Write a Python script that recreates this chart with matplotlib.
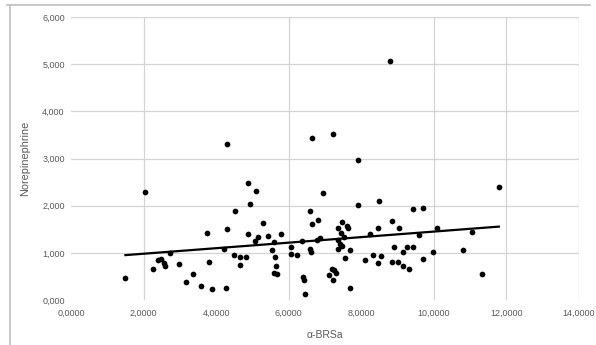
import numpy as np
import matplotlib
matplotlib.use("Agg")
import matplotlib.pyplot as plt
from matplotlib.lines import Line2D

# alpha-BRSa values
brs = [1.50, 2.03, 2.25, 2.39, 2.48, 2.56, 2.58, 2.74, 2.98, 3.17,
       3.37, 3.57, 3.75, 3.81, 3.89, 4.23, 4.29, 4.26, 4.31, 4.88,
       5.11, 4.92, 4.51, 4.49, 4.67, 4.83, 4.65, 4.88, 5.06, 5.16,
       5.30, 5.44, 5.59, 5.78, 5.55, 5.62, 5.64, 5.59, 5.69, 6.06,
       6.06, 6.24, 6.36, 6.40, 6.41, 6.44, 6.58, 6.65, 6.82, 6.58,
       6.61, 6.79, 6.86, 6.95, 6.65, 7.23, 7.91, 8.78, 7.90, 8.49,
       9.42, 9.71, 7.48, 7.60, 7.64, 7.36, 7.44, 7.53, 7.37, 7.41,
       7.48, 7.35, 7.69, 7.56, 7.19, 7.25, 7.11, 7.30, 7.22, 7.69,
       8.11, 8.25, 8.45, 8.33, 8.54, 8.45, 8.86, 9.03, 8.89, 9.16,
       9.25, 9.43, 8.86, 9.00, 9.16, 9.31, 9.69, 9.60, 10.09, 9.99,
       10.80, 11.05, 11.33, 11.79]
# Norepinephrine values
norepi = [0.459, 2.292, 0.663, 0.847, 0.868, 0.776, 0.720, 0.988, 0.762, 0.388,
          0.550, 0.303, 1.425, 0.811, 0.233, 1.073, 1.496, 0.247, 3.316, 2.490,
          2.307, 2.038, 1.877, 0.946, 0.903, 0.903, 0.741, 1.390, 1.249, 1.340,
          1.623, 1.355, 1.221, 1.390, 1.058, 0.903, 0.720, 0.565, 0.550, 1.128,
          0.974, 0.946, 1.255, 0.480, 0.423, 0.120, 1.877, 1.608, 1.693, 1.073,
          1.009, 1.270, 1.305, 2.279, 3.435, 3.513, 2.963, 5.058, 2.017, 2.102,
          1.919, 1.947, 1.658, 1.566, 1.517, 1.531, 1.411, 1.340, 1.270, 1.185,
          1.143, 1.079, 1.058, 0.882, 0.663, 0.635, 0.529, 0.565, 0.423, 0.261,
          0.839, 1.397, 1.517, 0.946, 0.924, 0.776, 1.679, 1.517, 1.128, 1.023,
          1.128, 1.128, 0.797, 0.797, 0.720, 0.663, 0.875, 1.376, 1.517, 1.023,
          1.058, 1.446, 0.543, 2.399]

x_ticks = [0, 2, 4, 6, 8, 10, 12, 14]
y_ticks = [0, 1, 2, 3, 4, 5, 6]
x_gridlines = [2, 6, 10, 12, 14]

plt.rcParams['font.family'] = ['Liberation Sans', 'DejaVu Sans']

fig = plt.figure(figsize=(5.96, 3.45), dpi=100)
fig.patch.set_facecolor('white')
ax = fig.add_axes([71/596, 1-300/345, 508/596, 283/345])

ax.set_xlim(0, 14)
ax.set_ylim(0, 6)

grid_c = '#d4d4d4'
for yv in y_ticks[1:]:
    ax.axhline(yv, color=grid_c, lw=0.9, zorder=0)
for xv in x_gridlines:
    ax.axvline(xv, color=grid_c, lw=0.9, zorder=0)

ax.scatter(brs, norepi, s=17, color='black', zorder=3, linewidths=0)

xa = np.array(brs)
ya = np.array(norepi)
slope, inter = np.polyfit(xa, ya, 1)
xl = np.array([xa.min(), xa.max()])
ax.plot(xl, inter + slope * xl, color='black', lw=1.6, zorder=4)

for s in ax.spines.values():
    s.set_visible(False)

ax.set_xticks(x_ticks)
ax.set_yticks(y_ticks)
ax.set_xticklabels([f"{v:.4f}".replace('.', ',') for v in x_ticks])
ax.set_yticklabels([f"{v:.3f}".replace('.', ',') for v in y_ticks])
ax.tick_params(axis='both', length=0, labelsize=6.5, labelcolor='#595959')
ax.tick_params(axis='x', pad=6.5)
ax.tick_params(axis='y', pad=4.5)

ax.set_xlabel('α-BRSa', fontsize=7.5, color='#595959')
ax.set_ylabel('Norepinephrine', fontsize=7.8, color='#595959')
ax.xaxis.set_label_coords(0.5, -(330-300)/283, transform=ax.transAxes)
ax.yaxis.set_label_coords((30-71)/508, 0.5, transform=ax.transAxes)

# outer chart border (top and left visible)
bc = '#bfbfbf'
fig.add_artist(Line2D([7/596, 590/596], [1-5/345, 1-5/345], color=bc, lw=1.2, transform=fig.transFigure))
fig.add_artist(Line2D([10/596, 10/596], [1-5/345, 0], color=bc, lw=1.2, transform=fig.transFigure))

fig.savefig('out.png', dpi=100, facecolor='white')
